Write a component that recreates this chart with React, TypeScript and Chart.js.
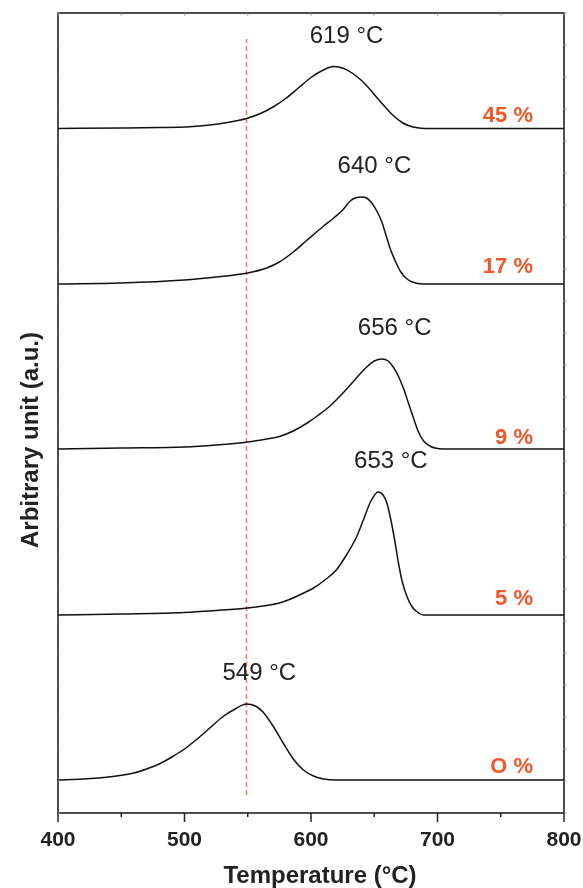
import { useEffect, useRef } from 'react';
import { Chart, registerables } from 'chart.js';
Chart.register(...registerables);

// Temperature axis
const xTicks = [400, 500, 600, 700, 800];
const xTitle = 'Temperature (°C)';
const yTitle = 'Arbitrary unit (a.u.)';

// Series labels (bottom to top), vertical offsets, and peak labels
const seriesLabels = ['O %', '5 %', '9 %', '17 %', '45 %'];
const baselineOffsets = [33, 198, 364, 529, 684.5];
const peakLabels = ['549 °C', '653 °C', '656 °C', '640 °C', '619 °C'];

// 0 %
const temps0 = [400, 420, 440, 460, 470, 480, 490, 500, 510, 520, 530, 540, 549, 556, 562, 570, 578, 586, 594, 602, 610, 620, 650, 700, 750, 800];
const sig0 = [0, 1, 3, 7, 11, 16, 23, 31, 41, 52, 63, 71, 76, 74, 68, 54, 37, 21, 10, 4, 1, 0, 0, 0, 0, 0];

// 5 %
const temps5 = [400, 450, 500, 525, 550, 565, 575, 583, 590, 602, 612, 620, 628, 636, 642, 647, 653, 657, 660, 663, 666, 669, 672, 676, 680, 684, 689, 700, 750, 800];
const sig5 = [0, 1, 2.5, 4.5, 7, 9.5, 12, 15.5, 19.5, 27, 36, 45, 60, 78, 97, 113, 123, 120, 112, 96, 76, 53, 34, 18, 8, 3, 0, 0, 0, 0];

// 9 %
const temps9 = [400, 450, 500, 525, 550, 565, 575, 586, 597, 606, 615, 623, 631, 638, 644, 650, 656, 661, 665, 669, 673, 677, 681, 685, 689, 694, 698, 705, 750, 800];
const sig9 = [0, 1, 2, 4, 7, 10, 12.5, 18, 26, 34, 43, 53, 64, 74, 82, 88, 90, 88, 82, 73, 61, 46, 31, 17, 8, 3, 1, 0, 0, 0];

// 17 %
const temps17 = [400, 450, 500, 525, 550, 565, 575, 586, 597, 610, 618, 625, 631, 635, 640, 644, 648, 652, 656, 659, 663, 667, 671, 675, 680, 689, 700, 750, 800];
const sig17 = [0, 1, 4, 7, 11, 16, 22, 32, 44, 58, 66, 74, 83, 86, 87, 86, 81, 73, 62, 50, 34, 22, 12, 6, 2, 0, 0, 0, 0];

// 45 %
const temps45 = [400, 450, 480, 504, 520, 535, 549, 560, 570, 580, 590, 600, 609, 618, 626, 633, 640, 646, 652, 659, 665, 672, 678, 684, 690, 700, 750, 800];
const sig45 = [0, 0.5, 1, 1.8, 3.5, 6.2, 10, 15, 21.5, 30, 40.5, 51, 58, 62, 60, 55, 48, 40, 31, 21, 13, 6, 2.5, 0.7, 0, 0, 0, 0];

// Dashed reference line
const refTemp = 549;
const refRange = [18, 774];

const allTemps = [temps0, temps5, temps9, temps17, temps45];
const allSigs = [sig0, sig5, sig9, sig17, sig45];

const ORANGE = '#f2562a';
const DASH = '#f47452';
const INK = '#222222';
const FONT = '"Liberation Sans", Arial, sans-serif';

export default function App() {
  const ref = useRef<HTMLCanvasElement | null>(null);

  useEffect(() => {
    if (!ref.current) return;
    const datasets: any[] = allTemps.map((ts, i) => ({
      label: seriesLabels[i],
      data: ts.map((t, j) => ({ x: t, y: baselineOffsets[i] + allSigs[i][j] })),
      borderColor: '#111111',
      borderWidth: 1.5,
      pointRadius: 0,
      cubicInterpolationMode: 'monotone',
      fill: false,
    }));
    datasets.push({
      label: 'ref',
      data: refRange.map((v) => ({ x: refTemp, y: v })),
      borderColor: DASH,
      borderWidth: 1.5,
      borderDash: [5, 3],
      pointRadius: 0,
      fill: false,
    });

    const deco = {
      id: 'deco',
      afterDraw(chart: any) {
        const ctx = chart.ctx;
        const xs = chart.scales.x;
        const ys = chart.scales.y;
        const { left, right, top, bottom } = chart.chartArea;
        ctx.save();
        // frame
        ctx.strokeStyle = INK;
        ctx.lineWidth = 1.6;
        ctx.strokeRect(left, top, right - left, bottom - top);
        // bottom ticks (outward) and top ticks (inward)
        for (let t = 400; t <= 800; t += 50) {
          const px = xs.getPixelForValue(t);
          const major = t % 100 === 0;
          ctx.lineWidth = 1.5;
          ctx.strokeStyle = INK;
          ctx.beginPath();
          ctx.moveTo(px, bottom);
          ctx.lineTo(px, bottom + (major ? 9 : 4));
          ctx.stroke();
          ctx.lineWidth = 1;
          ctx.strokeStyle = '#888';
          ctx.beginPath();
          ctx.moveTo(px, top);
          ctx.lineTo(px, top + 2.5);
          ctx.stroke();
        }
        // side ticks
        ctx.lineWidth = 1;
        ctx.strokeStyle = '#999';
        for (let v = 0; v <= 800; v += 32) {
          const py = ys.getPixelForValue(v);
          ctx.beginPath();
          ctx.moveTo(right, py);
          ctx.lineTo(right + 2.5, py);
          ctx.moveTo(left, py);
          ctx.lineTo(left + 2, py);
          ctx.stroke();
        }
        // labels
        const lifts = [7, 10, 5, 11, 7];
        for (let i = 0; i < seriesLabels.length; i++) {
          const sig = allSigs[i];
          let mi = 0;
          for (let j = 1; j < sig.length; j++) if (sig[j] > sig[mi]) mi = j;
          const px = xs.getPixelForValue(allTemps[i][mi]);
          const py = ys.getPixelForValue(baselineOffsets[i] + sig[mi]);
          ctx.fillStyle = INK;
          ctx.font = `24px ${FONT}`;
          ctx.textAlign = 'left';
          ctx.textBaseline = 'alphabetic';
          ctx.fillText(peakLabels[i], px - 24, py - 24);

          ctx.fillStyle = ORANGE;
          ctx.font = `bold 22px ${FONT}`;
          ctx.textAlign = 'right';
          ctx.fillText(seriesLabels[i], xs.getPixelForValue(775.5), ys.getPixelForValue(baselineOffsets[i]) - lifts[i]);
        }
        // axis titles
        ctx.fillStyle = INK;
        ctx.font = `bold 24px ${FONT}`;
        ctx.textAlign = 'center';
        ctx.textBaseline = 'alphabetic';
        ctx.fillText(xTitle, (left + right) / 2 + 9, 883);
        ctx.translate(38, 440);
        ctx.rotate(-Math.PI / 2);
        ctx.fillText(yTitle, 0, 0);
        ctx.restore();
      },
    };

    const chart = new Chart(ref.current, {
      type: 'line',
      data: { datasets },
      options: {
        animation: false,
        responsive: false,
        maintainAspectRatio: false,
        layout: { padding: { top: 13, right: 19, left: 0, bottom: 0 } },
        plugins: { legend: { display: false }, tooltip: { enabled: false } },
        scales: {
          x: {
            type: 'linear',
            min: 400,
            max: 800,
            afterFit: (s: any) => { s.height = 75; s.paddingLeft = 0; s.paddingRight = 0; },
            afterBuildTicks: (s: any) => { s.ticks = xTicks.map((v) => ({ value: v })); },
            grid: { display: false, drawTicks: false },
            border: { display: false },
            ticks: { color: INK, font: { family: FONT, size: 21, weight: 'bold' }, padding: 15, maxRotation: 0 },
            title: { display: false },
          },
          y: {
            type: 'linear',
            min: 0,
            max: 800,
            afterFit: (s: any) => { s.width = 58; s.paddingTop = 0; s.paddingBottom = 0; },
            grid: { display: false, drawTicks: false },
            border: { display: false },
            ticks: { display: false },
            title: { display: false },
          },
        },
      },
      plugins: [deco],
    });
    return () => chart.destroy();
  }, []);

  return (
    <div style={{ position: 'fixed', left: 0, top: 0, width: 583, height: 888, background: '#fff' }}>
      <canvas ref={ref} width={583} height={888} style={{ width: 583, height: 888, display: 'block' }} />
    </div>
  );
}
